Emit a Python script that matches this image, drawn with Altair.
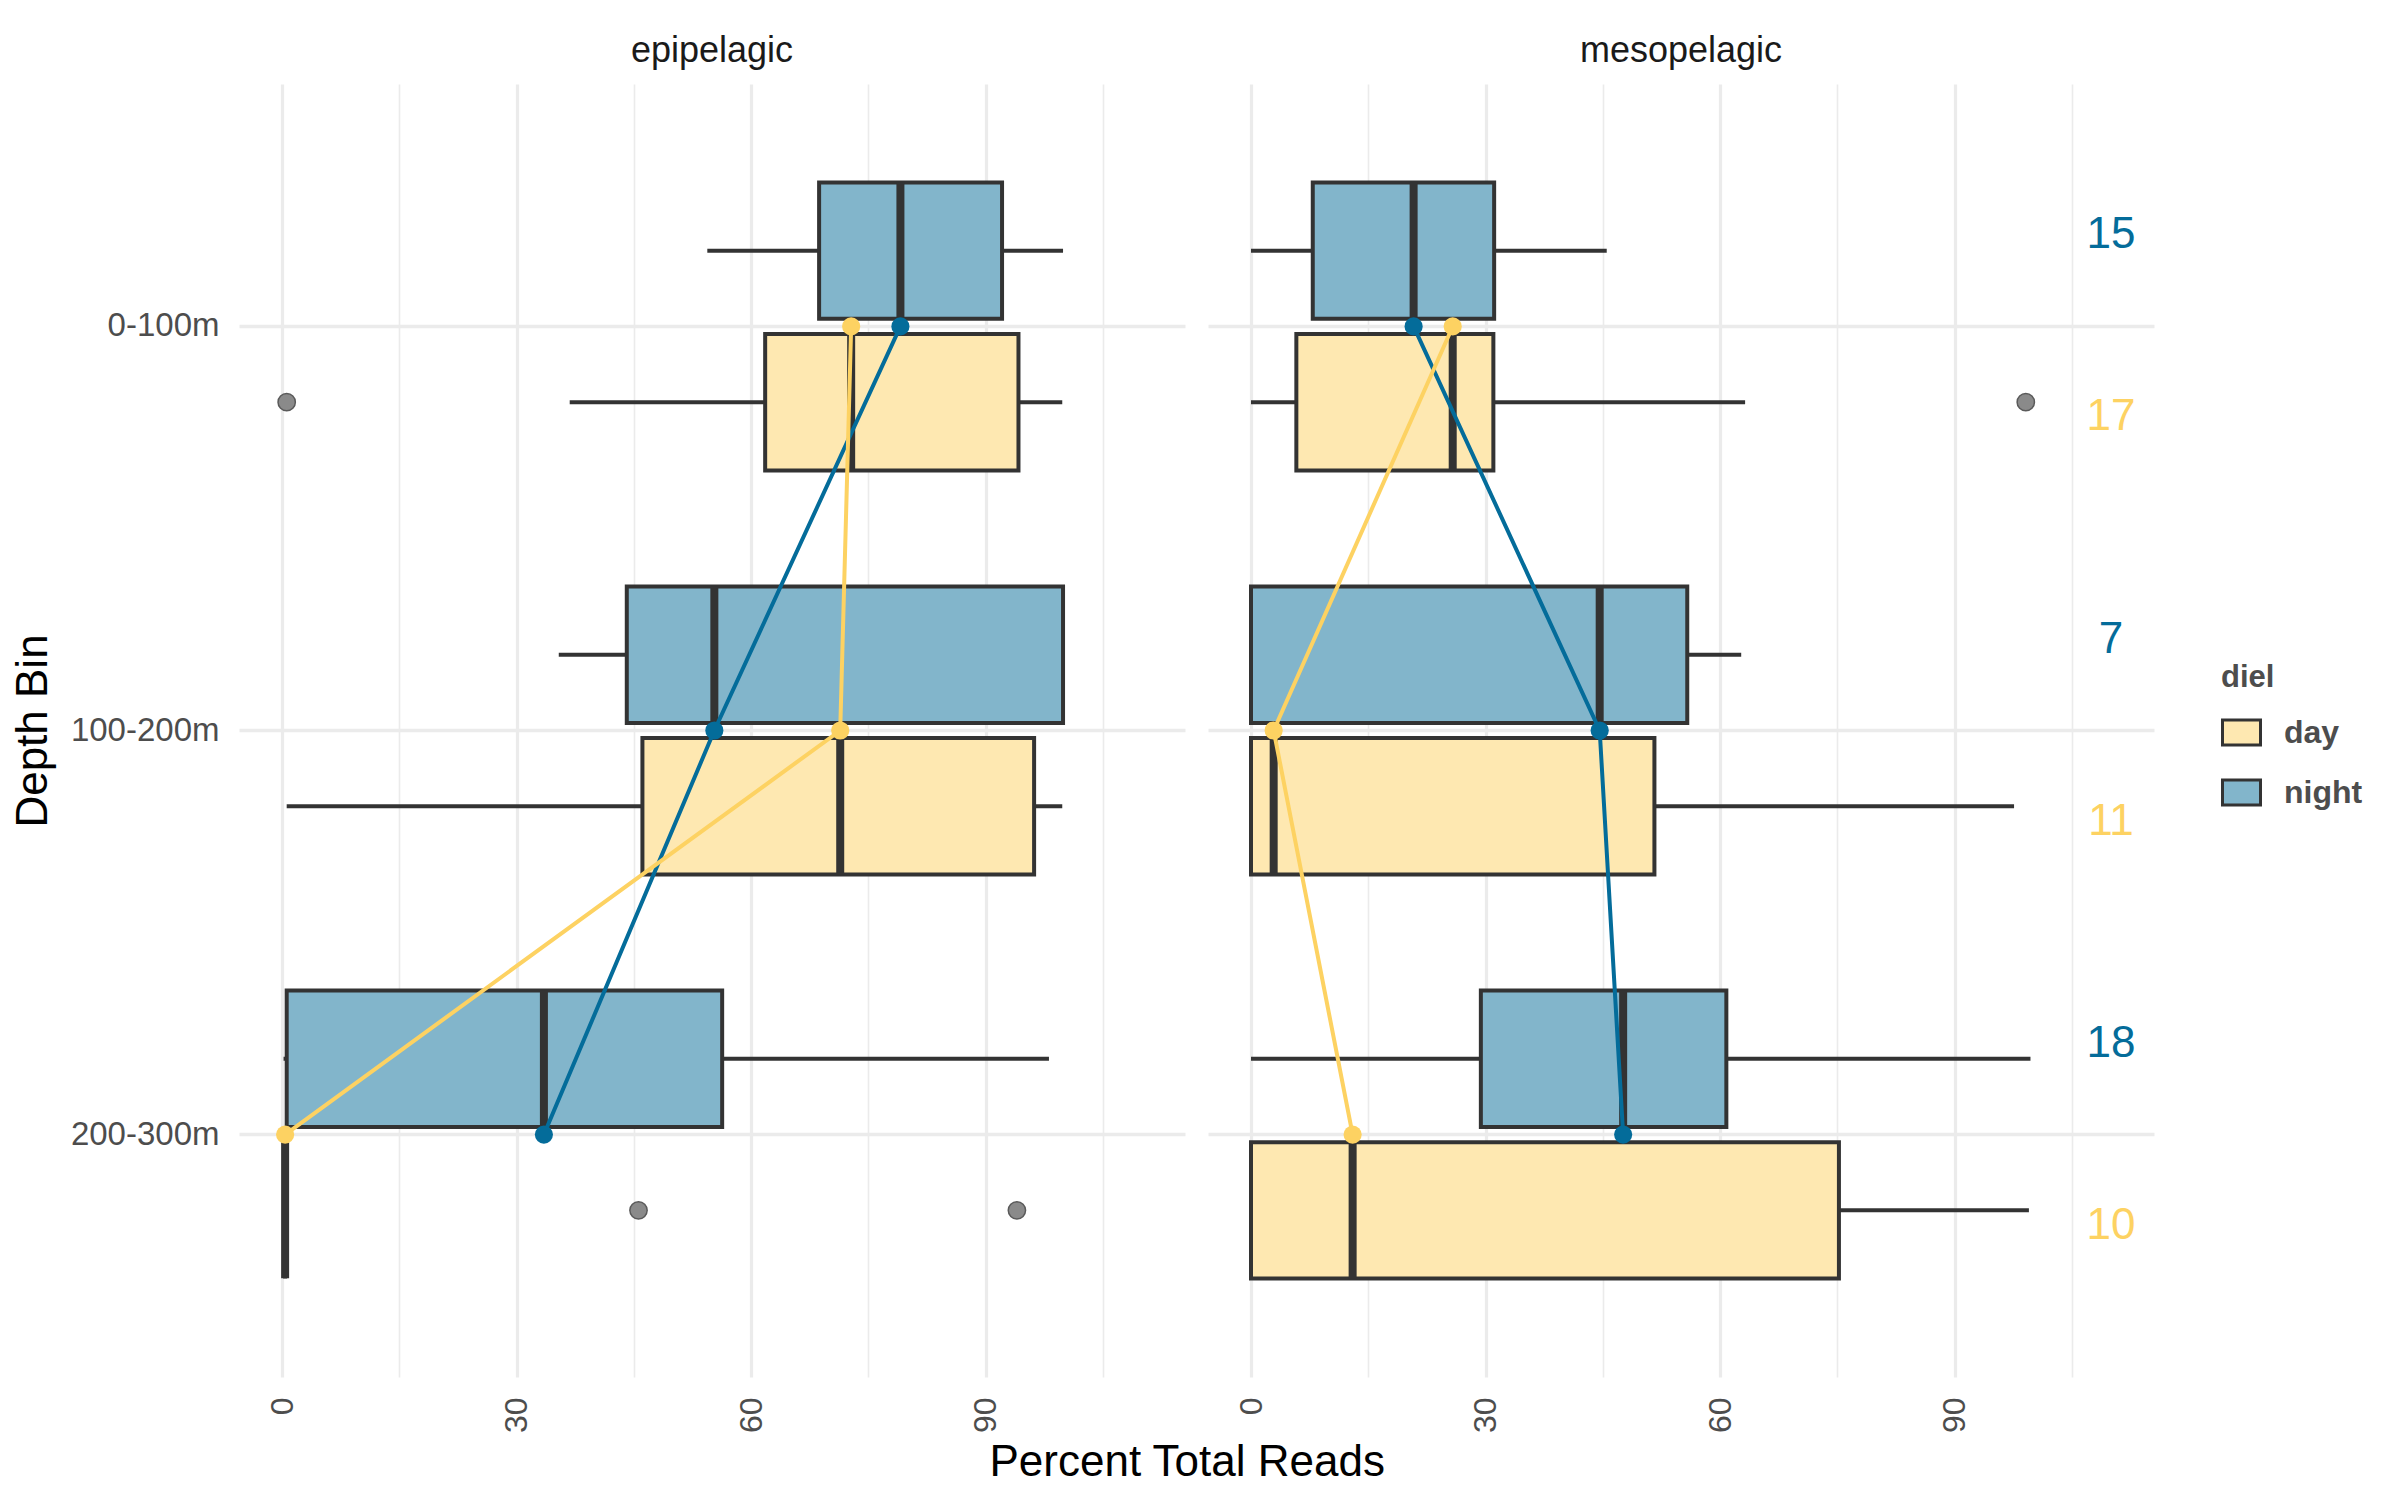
import altair as alt
import pandas as pd

# ---------------- data ----------------
DEPTHS = ["0-100m", "100-200m", "200-300m"]
ZONES = ["epipelagic", "mesopelagic"]

box_zone = ["epipelagic"] * 6 + ["mesopelagic"] * 6
box_depth = ["0-100m", "0-100m", "100-200m", "100-200m", "200-300m", "200-300m"] * 2
box_diel = ["night", "day"] * 6
box_lo = [54.4, 36.8, 35.4, 0.6, 0.2, 0.4, 0.0, 0.0, 0.0, 0.0, 0.0, 0.0]
box_q1 = [68.7, 61.8, 44.1, 46.1, 0.6, 0.4, 7.9, 5.8, 0.0, 0.0, 29.4, 0.0]
box_med = [79.1, 72.8, 55.3, 71.4, 33.5, 0.4, 20.8, 25.8, 44.6, 2.9, 47.6, 13.0]
box_q3 = [92.1, 94.2, 99.9, 96.2, 56.3, 0.4, 31.1, 31.0, 55.8, 51.6, 60.8, 75.2]
box_hi = [99.9, 99.8, 99.9, 99.8, 98.1, 0.4, 45.5, 63.2, 62.7, 97.6, 99.7, 99.5]

out_zone = ["epipelagic", "epipelagic", "epipelagic", "mesopelagic"]
out_depth = ["0-100m", "200-300m", "200-300m", "0-100m"]
out_diel = ["day", "day", "day", "day"]
out_value = [0.6, 45.6, 94.0, 99.1]

n_zone = ["mesopelagic"] * 6
n_depth = ["0-100m", "0-100m", "100-200m", "100-200m", "200-300m", "200-300m"]
n_diel = ["night", "day"] * 3
n_count = [15, 17, 7, 11, 18, 10]
n_xpos = [110] * 6

# ---------------- combined table ----------------
box_df = pd.DataFrame({"zone": box_zone, "depth": box_depth, "diel": box_diel,
                       "lo": box_lo, "q1": box_q1, "med": box_med, "q3": box_q3,
                       "hi": box_hi, "kind": "box"})
out_df = pd.DataFrame({"zone": out_zone, "depth": out_depth, "diel": out_diel,
                       "value": out_value, "kind": "out"})
n_df = pd.DataFrame({"zone": n_zone, "depth": n_depth, "diel": n_diel,
                     "n": n_count, "nx": n_xpos, "kind": "n"})
df = pd.concat([box_df, out_df, n_df], ignore_index=True)

FONT = "Liberation Sans"
DARK = "#333333"

fill_scale = alt.Scale(domain=["day", "night"], range=["#FEE8B1", "#82B5CB"])
dark_scale = alt.Scale(domain=["day", "night"], range=[DARK, DARK])
line_scale = alt.Scale(domain=["day", "night"], range=["#FDD262", "#046C9A"])
x_scale = alt.Scale(domain=[-5.5, 115.5], nice=False, zero=False)
y_scale = alt.Scale(domain=DEPTHS, paddingInner=0, paddingOuter=0.1)
yoff_box = alt.Scale(domain=["night", "day"], paddingInner=0.1, paddingOuter=0.3833)

x_axis = alt.Axis(
    values=[0, 15, 30, 45, 60, 75, 90, 105],
    labelExpr="datum.value % 30 == 0 ? datum.label : ''",
    labelAngle=270, labelFontSize=32, labelColor="#4D4D4D", labelFont=FONT,
    labelPadding=20, ticks=False, domain=False, grid=True, gridColor="#EBEBEB",
    gridWidth={"condition": {"test": "datum.value % 30 == 0", "value": 3.2}, "value": 1.6},
    title=None,
)
y_axis = alt.Axis(
    title="Depth Bin", titleFontSize=44, titleFontWeight="normal", titleColor="black",
    titleFont=FONT, titlePadding=15, labelFontSize=33, labelColor="#4D4D4D",
    labelFont=FONT, labelPadding=20, ticks=False, domain=False, grid=True,
    gridColor="#EBEBEB", gridWidth=3.5, bandPosition=0.5,
)

legend_args = dict(
    title="diel", orient="none", legendX=1982, legendY=579,
    symbolType="M-1,-0.66H1V0.66H-1Z", symbolSize=1444, symbolStrokeWidth=3,
    labelFontSize=32, labelFontWeight="bold", labelColor="#4D4D4D", labelFont=FONT,
    titleFontSize=31, titleFontWeight="bold", titleColor="#4D4D4D", titleFont=FONT,
    rowPadding=20, labelOffset=22, titlePadding=18)


def X(field):
    return alt.X(field, type="quantitative", scale=x_scale, axis=x_axis)


def Y():
    return alt.Y("depth:N", scale=y_scale, axis=y_axis, sort=DEPTHS)


def YOFF():
    return alt.YOffset("diel:N", scale=yoff_box, sort=["night", "day"])


base = alt.Chart()

whisk = base.transform_filter("datum.kind == 'box'").mark_rule(
    color=DARK, strokeWidth=4).encode(x=X("lo"), x2="hi", y=Y(), yOffset=YOFF())

boxes = base.transform_filter("datum.kind == 'box'").mark_bar(strokeWidth=4).encode(
    x=X("q1"), x2="q3", y=Y(), yOffset=YOFF(),
    fill=alt.Fill("diel:N", scale=fill_scale, legend=alt.Legend(**legend_args)),
    stroke=alt.Stroke("diel:N", scale=dark_scale, legend=alt.Legend(**legend_args)))

medians = base.transform_filter("datum.kind == 'box'").mark_tick(
    color=DARK, thickness=8, size=136, orient="vertical", opacity=1).encode(
    x=X("med"), y=Y(), yOffset=YOFF())

outliers = base.transform_filter("datum.kind == 'out'").mark_circle(
    size=300, color="#8A8A8A", stroke="#5A5A5A", strokeWidth=1.5, opacity=1).encode(
    x=X("value"), y=Y(), yOffset=YOFF())

lines = base.transform_filter("datum.kind == 'box'").mark_line(strokeWidth=4).encode(
    x=X("med"), y=Y(),
    color=alt.Color("diel:N", scale=line_scale, legend=None),
    order=alt.Order("depth:N"))

points = base.transform_filter("datum.kind == 'box'").mark_circle(size=330, opacity=1).encode(
    x=X("med"), y=Y(),
    color=alt.Color("diel:N", scale=line_scale, legend=None))


def count_layer(diel, dy):
    return base.transform_filter(
        f"datum.kind == 'n' && datum.diel == '{diel}'").mark_text(
        fontSize=44, font=FONT, align="center", baseline="middle", dy=dy).encode(
        x=X("nx"), y=Y(), text="n:Q",
        color=alt.Color("diel:N", scale=line_scale, legend=None))


counts_night = count_layer("night", -91)
counts_day = count_layer("day", 91)

layered = alt.layer(whisk, boxes, medians, outliers, lines, points,
                    counts_night, counts_day, data=df).properties(width=946, height=1293)

chart = layered.facet(
    column=alt.Column("zone:N", sort=ZONES, header=alt.Header(
        title=None, labelFontSize=36, labelColor="#1A1A1A", labelFont=FONT,
        labelPadding=14)),
    spacing=23,
).properties(
    title=alt.TitleParams("Percent Total Reads", orient="bottom", anchor="middle",
                          fontSize=44, fontWeight="normal", color="black", font=FONT,
                          offset=8),
    padding={"left": 3, "top": 25, "right": 5, "bottom": 5},
).configure(font=FONT).configure_view(stroke="transparent", strokeWidth=0)

chart.save("out.html", embed_options={"renderer": "svg", "actions": False})
